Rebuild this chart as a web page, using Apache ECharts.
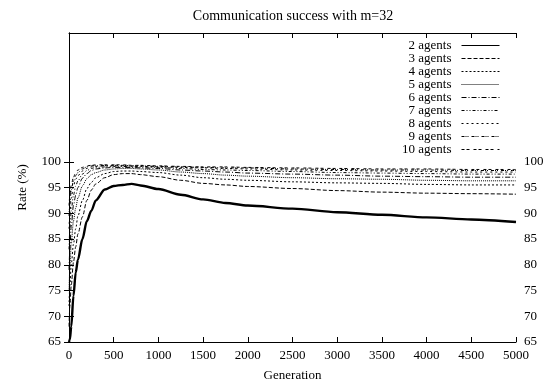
<!DOCTYPE html>
<html>
<head>
<meta charset="utf-8">
<script src="https://cdn.jsdelivr.net/npm/echarts@6/dist/echarts.min.js"></script>
<style>html,body{margin:0;padding:0;background:#fff}#c{width:552px;height:387px}</style>
</head>
<body>
<div id="c"></div>
<script>
var gens = [0, 10, 25, 50, 75, 100, 150, 200, 250, 300, 400, 500, 600, 700, 800, 1000, 1250, 1500, 1750, 2000, 2500, 3000, 3500, 4000, 4500, 5000];
var a2  = [65, 65.5, 68, 74, 78.5, 81, 85, 88.5, 90.5, 92.5, 94.6, 95.3, 95.5, 95.7, 95.4, 94.7, 93.6, 92.7, 92.0, 91.5, 90.9, 90.2, 89.7, 89.2, 88.8, 88.3];
var a3  = [68, 72, 76, 80.5, 83.5, 86, 89.3, 92.5, 94.5, 95.7, 96.9, 97.5, 97.7, 97.7, 97.5, 97.1, 96.4, 95.8, 95.5, 95.2, 94.8, 94.4, 94.1, 93.9, 93.8, 93.7];
var a4  = [72, 76, 80, 84, 87, 89.5, 92.5, 94.8, 96.0, 96.9, 97.7, 98.1, 98.2, 98.2, 98.1, 97.9, 97.4, 96.9, 96.6, 96.4, 96.1, 95.9, 95.8, 95.6, 95.5, 95.5];
var a5  = [75, 79.5, 84, 88.5, 91, 93, 95.3, 96.7, 97.5, 97.9, 98.4, 98.6, 98.7, 98.7, 98.6, 98.4, 98.0, 97.7, 97.4, 97.2, 96.9, 96.7, 96.6, 96.4, 96.3, 96.3];
var a6  = [79, 83, 87.5, 91.5, 93.5, 95, 96.8, 97.7, 98.3, 98.6, 98.8, 98.9, 98.9, 98.9, 98.8, 98.7, 98.4, 98.2, 98.0, 97.8, 97.6, 97.4, 97.2, 97.1, 97.0, 97.0];
var a7  = [83, 87, 90.5, 93.5, 95.3, 96.3, 97.6, 98.3, 98.7, 98.9, 99.0, 99.1, 99.1, 99.0, 99.0, 98.9, 98.7, 98.5, 98.4, 98.3, 98.1, 97.9, 97.8, 97.7, 97.6, 97.6];
var a8  = [87, 90, 93, 95.3, 96.6, 97.3, 98.2, 98.7, 99.0, 99.1, 99.2, 99.2, 99.2, 99.1, 99.1, 99.0, 98.9, 98.8, 98.7, 98.6, 98.4, 98.3, 98.2, 98.1, 98.0, 98.0];
var a9  = [89.5, 92, 94.5, 96.3, 97.3, 97.9, 98.6, 99.0, 99.2, 99.2, 99.3, 99.3, 99.3, 99.2, 99.2, 99.1, 99.0, 98.9, 98.8, 98.8, 98.6, 98.5, 98.4, 98.4, 98.3, 98.3];
var a10 = [91.5, 93.5, 95.5, 97, 97.9, 98.4, 98.9, 99.2, 99.3, 99.4, 99.4, 99.4, 99.4, 99.3, 99.3, 99.2, 99.1, 99.0, 99.0, 98.9, 98.8, 98.7, 98.6, 98.6, 98.5, 98.5];
var seriesNames = ['2 agents','3 agents','4 agents','5 agents','6 agents','7 agents','8 agents','9 agents','10 agents'];
var seriesValues = [a2,a3,a4,a5,a6,a7,a8,a9,a10];
var yTicks = [65, 70, 75, 80, 85, 90, 95, 100];

var dashes = ['solid', [4,2], [2,2], [1,1], [5,2,1,2], [3,2,1,2,1,2], [2,3], [3,1,1,1,1,3], [3,2,3,4]];
var widths = [2.4,1,1,1,1,1,1,1,1];
var font = 'Liberation Serif';

var series = seriesNames.map(function(n, k){
  return {
    name: n, type: 'line', symbol: 'none', showSymbol: false,
    smooth: 0.3, smoothMonotone: 'x', animation: false,
    color: '#000',
    lineStyle: {color: '#000', width: widths[k], type: dashes[k]},
    data: gens.map(function(g, i){ return [g, seriesValues[k][i]]; })
  };
});

var yBase = {
  type: 'value', min: 65, max: 125, interval: 5,
  axisLine: {show: true, lineStyle: {color: '#000', width: 1}},
  axisTick: {show: true, inside: true, length: 5, lineStyle: {color: '#000'}, customValues: yTicks},
  axisLabel: {color: '#000', fontFamily: font, fontSize: 13, margin: 8, customValues: yTicks},
  splitLine: {show: false}
};
var chart = echarts.init(document.getElementById('c'), null, {renderer: 'canvas'});
chart.setOption({
  animation: false,
  backgroundColor: '#fff',
  title: {text: 'Communication success with m=32', left: 288, top: 4, textAlign: 'center',
    textStyle: {fontFamily: font, fontSize: 14, fontWeight: 'normal', color: '#000'}},
  grid: {left: 69, right: 36, top: 33, bottom: 45, containLabel: false},
  legend: {
    orient: 'vertical', right: 52, top: 39, align: 'right', padding: 0,
    itemWidth: 38, itemHeight: 8, itemGap: 0,
    itemStyle: {opacity: 0},
    lineStyle: {width: 1},
    textStyle: {fontFamily: font, fontSize: 13, lineHeight: 12, color: '#000', padding: [0, 5, 0, 0]},
    data: seriesNames
  },
  xAxis: [
    {type: 'value', min: 0, max: 5000, interval: 500, position: 'bottom',
     name: 'Generation', nameLocation: 'middle', nameGap: 27,
     nameTextStyle: {fontFamily: font, fontSize: 13, color: '#000'},
     axisLine: {show: true, onZero: false, lineStyle: {color: '#000'}},
     axisTick: {show: true, inside: true, length: 5, lineStyle: {color: '#000'}},
     axisLabel: {color: '#000', fontFamily: font, fontSize: 13, margin: 7,
       formatter: function(v){ return String(v); }},
     splitLine: {show: false}},
    {type: 'value', min: 0, max: 5000, interval: 500, position: 'top',
     axisLine: {show: true, onZero: false, lineStyle: {color: '#000'}},
     axisTick: {show: true, inside: true, length: 5, lineStyle: {color: '#000'}},
     axisLabel: {show: false}, splitLine: {show: false}}
  ],
  yAxis: [
    Object.assign({}, yBase, {position: 'left', name: 'Rate (%)', nameLocation: 'middle', nameGap: 40,
      nameTextStyle: {fontFamily: font, fontSize: 13, color: '#000'}}),
    Object.assign({}, yBase, {position: 'right'})
  ],
  series: series
});
</script>
</body>
</html>
